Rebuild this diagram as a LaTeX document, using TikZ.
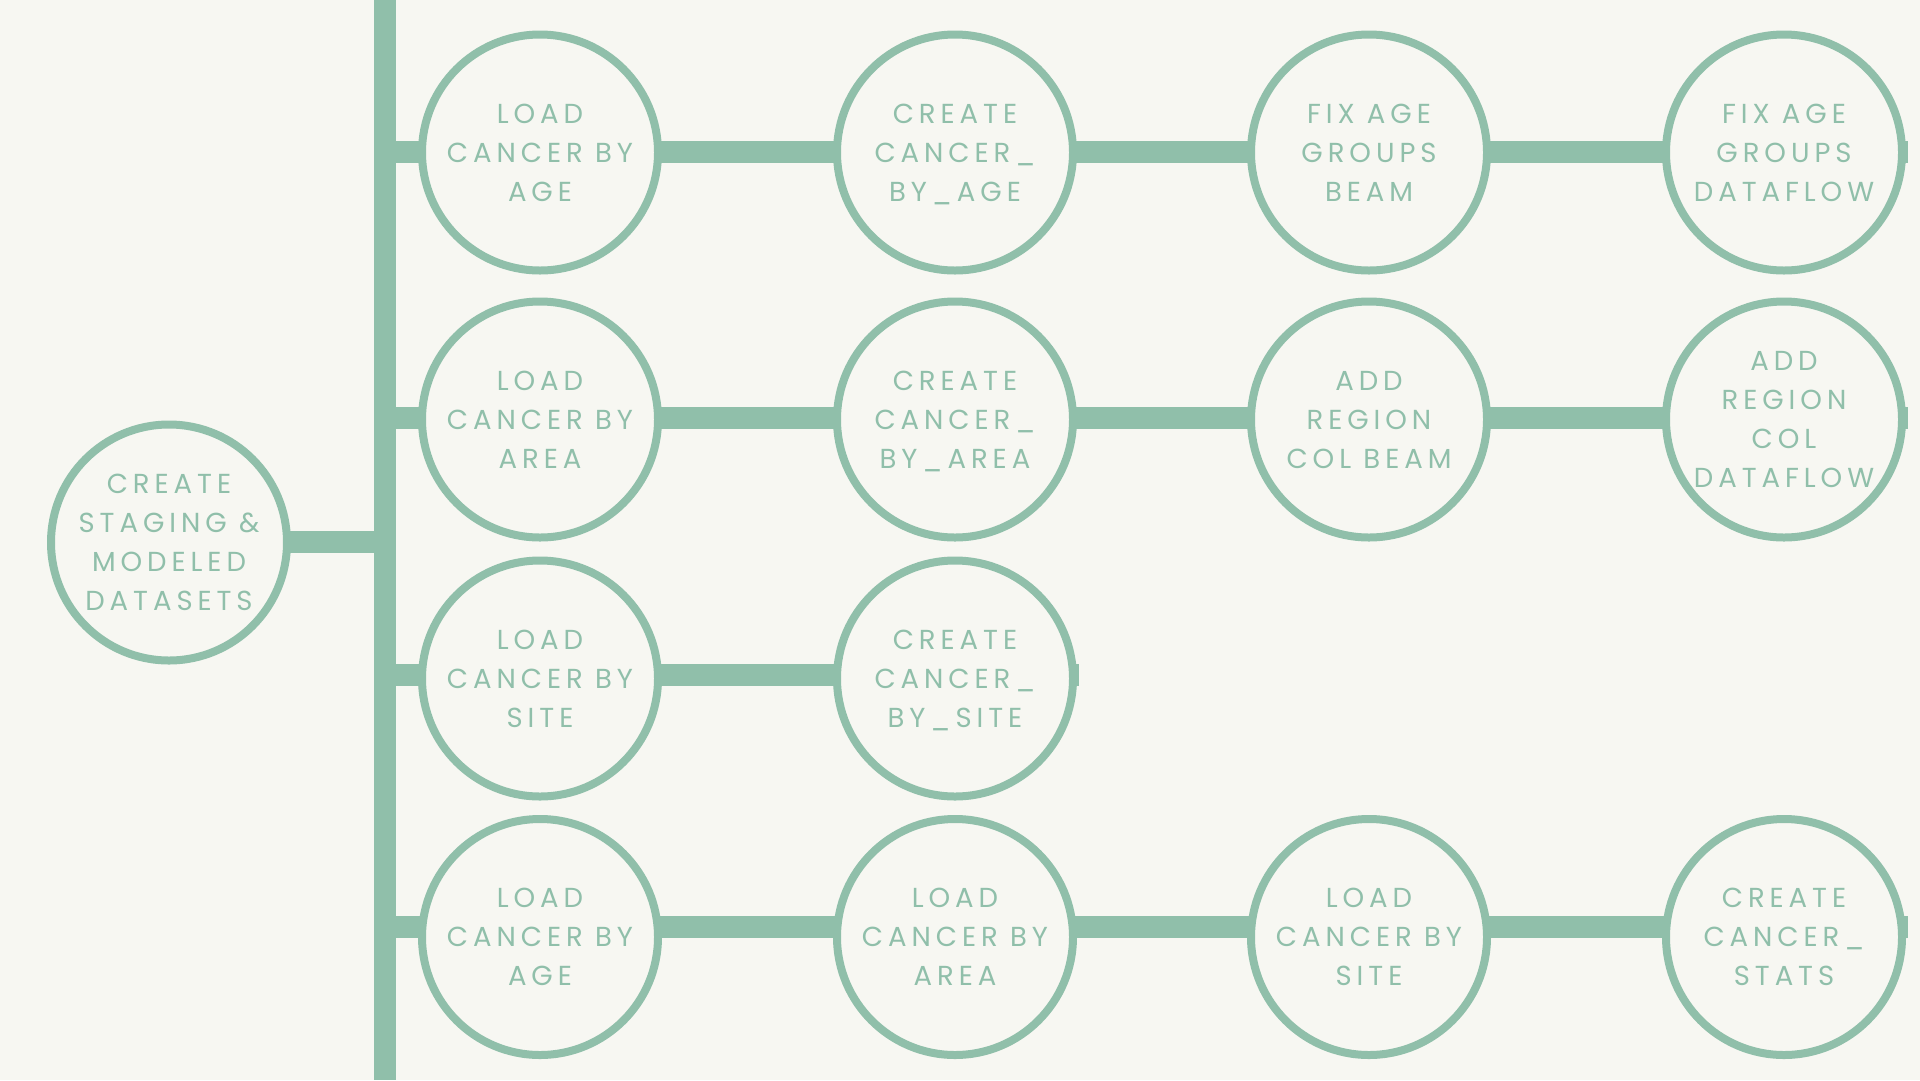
\documentclass[tikz,border=0pt]{standalone}
\usepackage{fontspec}
\setmainfont{Poppins}[LetterSpace=18]
\definecolor{sage}{HTML}{90BFAA}
\definecolor{paper}{HTML}{F7F7F2}
\pgfdeclarelayer{bglayer}
\pgfdeclarelayer{connlayer}
\pgfsetlayers{bglayer,connlayer,main}
\tikzset{
  stage/.style={circle, draw=sage, line width=8pt, fill=paper, minimum size=236pt, inner sep=0pt,
    text=sage, align=center, text depth=0pt, font=\fontsize{27.5}{39}\selectfont},
  link/.style={draw=sage, line width=22pt},
}
\begin{document}
\begin{tikzpicture}[x=1pt,y=-1pt]
\begin{pgfonlayer}{bglayer}
\fill[paper] (0,0) rectangle (1920,1080);
\end{pgfonlayer}
\useasboundingbox (0,0) rectangle (1920,1080);

\node[stage] (main) at (169,542.5) {CREATE\\STAGING \&\\MODELED\\DATASETS};

\node[stage] (r1c1) at (540,152.5) {LOAD\\CANCER BY\\AGE};
\node[stage] (r1c2) at (955,152.5) {CREATE\\CANCER\_\\BY\_AGE};
\node[stage] (r1c3) at (1369,152.5) {FIX AGE\\GROUPS\\BEAM};
\node[stage] (r1c4) at (1784,152.5) {FIX AGE\\GROUPS\\DATAFLOW};

\node[stage] (r2c1) at (540,419.5) {LOAD\\CANCER BY\\AREA};
\node[stage] (r2c2) at (955,419.5) {CREATE\\CANCER\_\\BY\_AREA};
\node[stage] (r2c3) at (1369,419.5) {ADD\\REGION\\COL BEAM};
\node[stage] (r2c4) at (1784,419.5) {ADD\\REGION\\COL\\DATAFLOW};

\node[stage] (r3c1) at (540,678.5) {LOAD\\CANCER BY\\SITE};
\node[stage] (r3c2) at (955,678.5) {CREATE\\CANCER\_\\BY\_SITE};

\node[stage] (r4c1) at (540,937) {LOAD\\CANCER BY\\AGE};
\node[stage] (r4c2) at (955,937) {LOAD\\CANCER BY\\AREA};
\node[stage] (r4c3) at (1369,937) {LOAD\\CANCER BY\\SITE};
\node[stage] (r4c4) at (1784,937) {CREATE\\CANCER\_\\STATS};

\coordinate (bartop) at (385,0);
\coordinate (barbot) at (385,1080);
\coordinate (bmain) at (385,541.5);
\coordinate (b1) at (385,151.5);
\coordinate (b2) at (385,418);
\coordinate (b3) at (385,675);
\coordinate (b4) at (385,927);
\coordinate (e1) at (1908,151.5);
\coordinate (e2) at (1908,418);
\coordinate (e3) at (1079,675);
\coordinate (e4) at (1908,927);

\begin{pgfonlayer}{connlayer}
\draw[link] (bartop) -- (barbot);
\draw[link] (main.center |- bmain) -- (bmain);
\draw[link] (b1) -- (r1c1.center |- b1) -- (r1c2.center |- b1) -- (r1c3.center |- b1) -- (r1c4.center |- b1) -- (e1);
\draw[link] (b2) -- (r2c1.center |- b2) -- (r2c2.center |- b2) -- (r2c3.center |- b2) -- (r2c4.center |- b2) -- (e2);
\draw[link] (b3) -- (r3c1.center |- b3) -- (r3c2.center |- b3) -- (e3);
\draw[link] (b4) -- (r4c1.center |- b4) -- (r4c2.center |- b4) -- (r4c3.center |- b4) -- (r4c4.center |- b4) -- (e4);
\end{pgfonlayer}
\end{tikzpicture}
\end{document}
